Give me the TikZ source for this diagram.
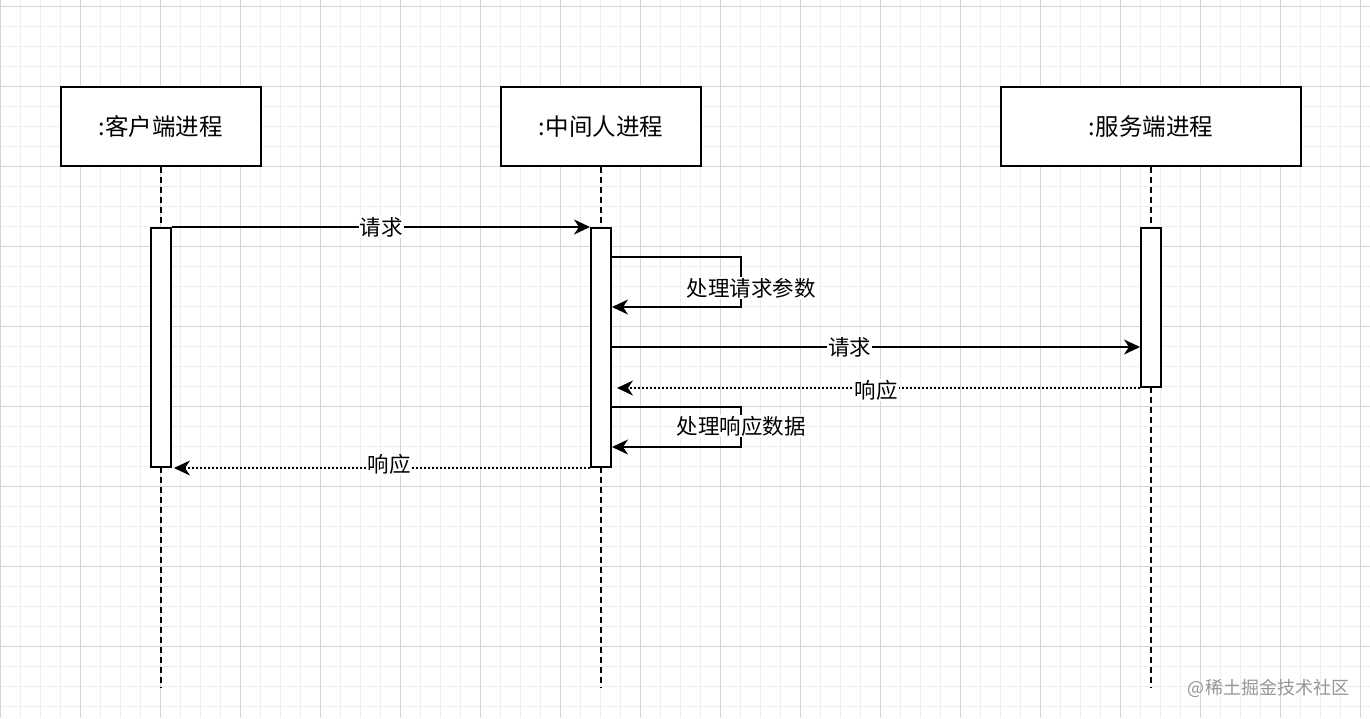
\documentclass[tikz,border=0pt]{standalone}
\usepackage{fontspec}
\setmainfont{Noto Sans CJK SC}
\usetikzlibrary{arrows.meta}
\definecolor{minorgrid}{RGB}{238,238,238}
\definecolor{majorgrid}{RGB}{212,212,212}
\definecolor{markgray}{RGB}{150,150,150}

\begin{document}
\begin{tikzpicture}[x=1pt, y=-1pt, >={Stealth[length=16pt,width=15pt,inset=5pt]}, line width=2pt]
			\tikzstyle{actor} = [draw, fill=white, minimum width=200pt, minimum height=79pt, inner sep=0pt, font=\fontsize{23.5pt}{28pt}\selectfont]
			\tikzstyle{bar} = [draw, fill=white, minimum width=20pt, inner sep=0pt, anchor=north]
			\tikzstyle{life} = [dash pattern=on 6pt off 4pt]
			\tikzstyle{msg} = [->]
			\tikzstyle{reply} = [->, dash pattern=on 2pt off 2pt]
			\tikzstyle{txt} = [fill=white, inner sep=1pt, font=\fontsize{21.5pt}{26pt}\selectfont]
			\useasboundingbox[fill=white] (0,0) rectangle (1370,718);
			\begin{scope}[line width=1pt]
			\foreach \x in {0,20,...,1360} \draw[minorgrid] (\x,0) -- (\x,718);
			\foreach \y in {6,26,...,706} \draw[minorgrid] (0,\y) -- (1370,\y);
			\foreach \x in {0,80,...,1360} \draw[majorgrid] (\x,0) -- (\x,718);
			\foreach \y in {6,86,...,646} \draw[majorgrid] (0,\y) -- (1370,\y);
			\end{scope}
			\node[actor] (C) at (160.5,126.5) {:客户端进程};
			\node[actor] (M) at (601,126.5) {:中间人进程};
			\node[actor, minimum width=300pt] (S) at (1151,126.5) {:服务端进程};
			\coordinate (CE) at (160.5,688);
			\coordinate (ME) at (601,688);
			\coordinate (SE) at (1151,688);
			\draw[life] (C.south) -- (CE);
			\draw[life] (M.south) -- (ME);
			\draw[life] (S.south) -- (SE);
			\node[bar, minimum height=239pt] (AC) at (161,227) {};
			\node[bar, minimum height=239pt] (AM) at (601,227) {};
			\node[bar, minimum height=159pt] (AS) at (1151,227) {};
			\coordinate (T1) at (741,257);
			\coordinate (B1) at (741,307);
			\coordinate (Y2) at (0,347);
			\coordinate (T2) at (741,407);
			\coordinate (B2) at (741,447);
			\draw[msg] (AC.north east) -- (AM.north west) node[txt, midway] (L1) {请求};
			\draw[msg] (AM.east |- T1) -- (T1) -- (B1) -- (AM.east |- B1);
			\node[txt] (L2) at (751,288) {处理请求参数};
			\draw[msg] (AM.east |- Y2) -- (AS.west |- Y2) node[txt, pos=0.45] (L3) {请求};
			\draw[reply, shorten >=5pt] (AS.south west) -- (AM.east |- AS.south) node[txt, midway, yshift=-2pt] (L4) {响应};
			\draw[msg] (AM.east |- T2) -- (T2) -- (B2) -- (AM.east |- B2);
			\node[txt] (L5) at (741,426) {处理响应数据};
			\draw[reply, shorten >=2pt] (AM.south west) -- (AC.south east) node[txt, pos=0.48, yshift=4pt] (L6) {响应};
			\node[text=markgray, font=\fontsize{18pt}{21pt}\selectfont, anchor=east, inner sep=0pt] (W) at (1350,688) {@稀土掘金技术社区};
\end{tikzpicture}
\end{document}
